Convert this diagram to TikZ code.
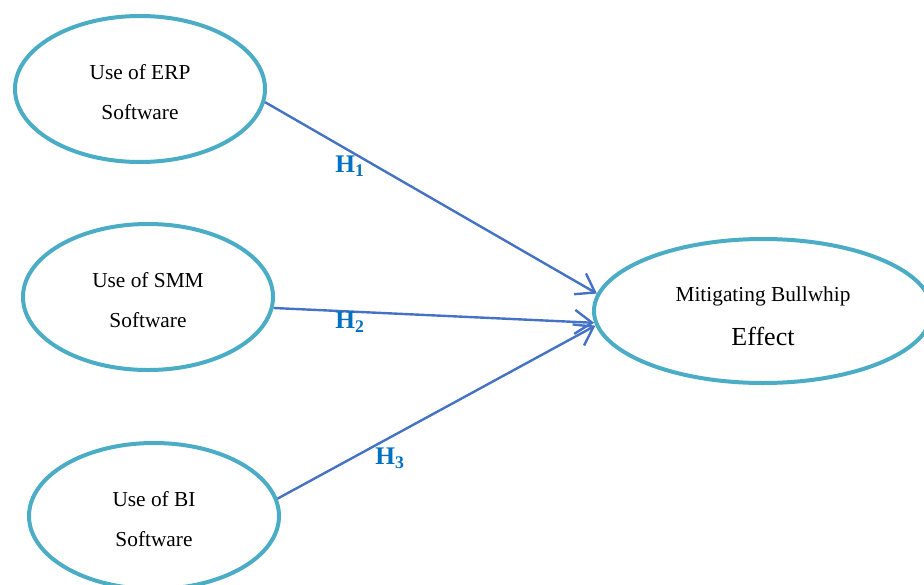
\documentclass[tikz,border=0pt]{standalone}
\usepackage{fontspec}
\setmainfont{Liberation Serif}
\usetikzlibrary{
  arrows.meta, shapes.geometric,
  positioning, calc
}
\definecolor{RingCyan}{RGB}{75,172,198}
\definecolor{LinkBlue}{RGB}{68,114,196}
\definecolor{HypBlue}{RGB}{0,112,192}
\tikzset{
  construct/.style={ellipse, draw=RingCyan, line width=3pt,
    minimum width=187.5pt, minimum height=109.5pt, inner sep=0pt,
    text height=45.5pt,
    align=center, font=\fontsize{16pt}{30pt}\selectfont},
  link/.style={draw=LinkBlue, line width=1.8pt,
    -{Straight Barb[length=13pt,width=18pt]}},
  hyp/.style={text=HypBlue, font=\bfseries\fontsize{19pt}{22pt}\selectfont}
}

\begin{document}
\begin{tikzpicture}[x=0.75pt,y=-0.75pt]
        \useasboundingbox (0,0) rectangle (924,585);
        % predictors
        \node[construct] (erp) at (140,89) {Use of ERP\\Software};
        \node[construct] (smm) at (148,297) {Use of SMM\\Software};
        \node[construct] (bi) at (154,516) {Use of BI\\Software};
        % outcome
        \node[construct, minimum width=253.5pt, minimum height=108pt, text height=52pt] (mbe) at (763,311)
          {Mitigating Bullwhip\\[3pt]{\fontsize{19.5pt}{32pt}\selectfont Effect}};
        \draw[link] (erp.-6) -- (mbe.174);
        \draw[link] (smm.-5) -- (mbe.184);
        \draw[link] (bi.8) -- (mbe.185);
        \node[hyp] (h1) at (350,166) {H\textsubscript{1}};
        \node[hyp] (h2) at (350,322) {H\textsubscript{2}};
        \node[hyp] (h3) at (390,458) {H\textsubscript{3}};
      \end{tikzpicture}
\end{document}
